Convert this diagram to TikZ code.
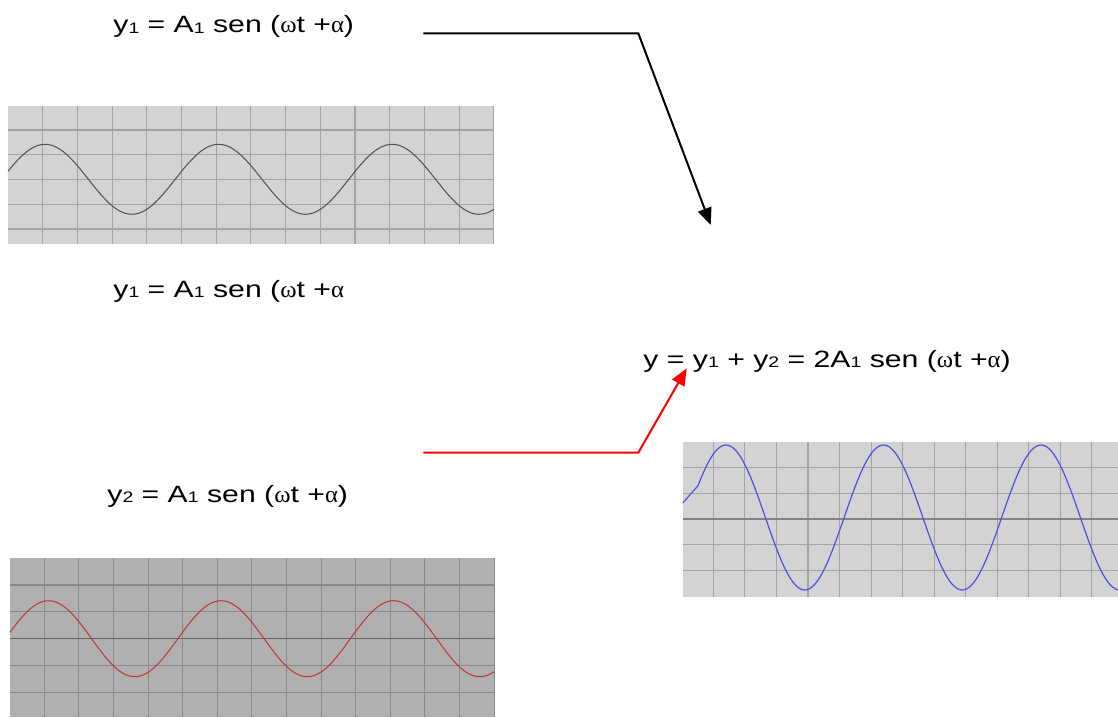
\documentclass[tikz,border=0pt]{standalone}
\usepackage{fontspec}
\setmainfont{Liberation Sans}[FakeStretch=1.28]
\newfontfamily\griega{Liberation Serif}[FakeStretch=1.05]
\usetikzlibrary{arrows.meta}
\definecolor{cpanel}{HTML}{D3D3D3}
\definecolor{cpanelo}{HTML}{B0B0B0}
\definecolor{crej}{HTML}{A4A4A4}
\definecolor{crejo}{HTML}{8A8A8A}
\definecolor{ceje}{HTML}{646464}
\definecolor{conda}{HTML}{505050}
\definecolor{crojo}{HTML}{C03434}
\definecolor{cazul}{HTML}{5050E0}
\newcommand{\ind}[1]{\raisebox{-0.03em}{\fontsize{7.6}{9}\selectfont #1}}
\newcommand{\w}{{\griega ω}}
\newcommand{\al}{{\griega α}}
\tikzset{
  ecu/.style={anchor=base west,inner sep=0pt,font=\fontsize{11.8}{14}\selectfont},
  rej/.style={draw=crej,line width=0.55pt},
  rejo/.style={draw=crejo,line width=0.55pt},
  eje/.style={draw=ceje,line width=0.8pt},
  onda/.style={draw=conda,line width=0.5pt},
  flecha/.style={-{Triangle[length=8.5pt,width=7pt]},line width=1pt,line join=miter},
}

\begin{document}
\begin{tikzpicture}[x=0.5pt,y=-0.5pt]
\useasboundingbox (0,0) rectangle (1118,717);

% ---------------- panel 1: y1 ----------------
\fill[cpanel] (8,106) rectangle (494,244);
\foreach \i in {0,...,13} \draw[rej] (42.7+34.7*\i,106) -- (42.7+34.7*\i,244);
\foreach \j in {0,...,4} \draw[rej] (8,130+24.75*\j) -- (494,130+24.75*\j);
\draw[onda] plot[domain=8:494,samples=160] (\x,{179.3-35*cos((\x-45)/173.6*360)});

% ---------------- panel 2: y2 ----------------
\fill[cpanelo] (10,558) rectangle (494,717);
\foreach \i in {0,...,13} \draw[rejo] (44.3+34.6*\i,558) -- (44.3+34.6*\i,717);
\foreach \j in {0,1,3,4} \draw[rejo] (10,585+26.8*\j) -- (494,585+26.8*\j);
\draw[eje] (10,638.6) -- (494,638.6);
\draw[onda,draw=crojo] plot[domain=10:494,samples=160] (\x,{638.7-38*cos((\x-48.5)/172.5*360)});

% ---------------- panel 3: suma ----------------
\fill[cpanel] (682.7,442.3) rectangle (1118,596.7);
\foreach \i in {0,...,12} \draw[rej] (713.3+31.55*\i,442.3) -- (713.3+31.55*\i,596.7);
\foreach \j in {0,1,3,4} \draw[rej] (682.7,467.3+25.85*\j) -- (1118,467.3+25.85*\j);
\draw[rej,draw=crej!80!black,line width=0.8pt] (682.7,519) -- (1118,519);
\begin{scope}
  \clip (682.7,442.3) rectangle (1118,596.7);
  \draw[onda,draw=cazul,line width=0.6pt] (682.7,503) --
    plot[domain=698:1118,samples=170] (\x,{517.5-72.5*cos((\x-726)/157.5*360)});
\end{scope}

% ---------------- ecuaciones ----------------
\node[ecu] (ecu1) at (113,33) {y\ind{1} = A\ind{1} sen (\w t +\al)};
\node[ecu] (ecu1b) at (113,297) {y\ind{1} = A\ind{1} sen (\w t +\al};
\node[ecu] (suma) at (643,367) {y = y\ind{1} + y\ind{2} = 2A\ind{1} sen (\w t +\al)};
\node[ecu] (ecu2) at (107,502) {y\ind{2} = A\ind{1} sen (\w t +\al)};

% ---------------- flechas ----------------
\coordinate (ini1) at (423.3,33.3);
\coordinate (codo1) at (638.3,33.3);
\coordinate (fin1) at (710.7,225);
\coordinate (ini2) at (423.3,452.7);
\coordinate (codo2) at (638.3,452.7);
\coordinate (fin2) at (686.7,368.3);
\draw[flecha] (ini1) -- (codo1) -- (fin1);
\draw[flecha,draw=red] (ini2) -- (codo2) -- (fin2);

\end{tikzpicture}
\end{document}
